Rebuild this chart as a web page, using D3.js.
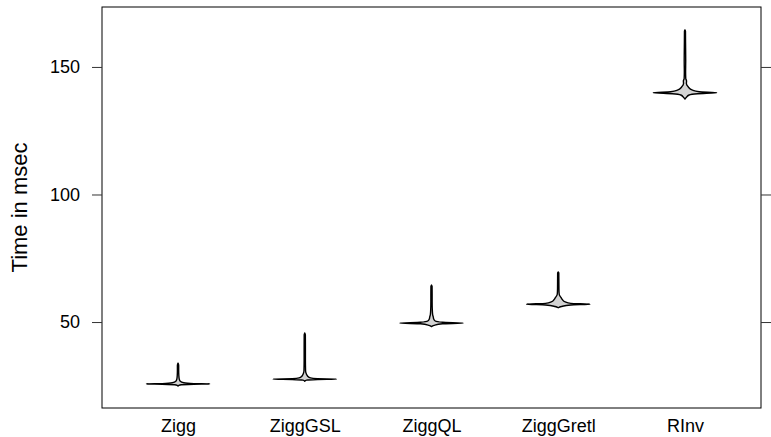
<!DOCTYPE html>
<html>
<head>
<meta charset="utf-8">
<script src="https://cdn.jsdelivr.net/npm/d3@7"></script>
<style>
  body { margin: 0; background: #fff; }
  text { font-family: "Liberation Sans", Arial, sans-serif; }
</style>
</head>
<body>
<div class="chart"></div>
<script>
// categories and tick labels
var categories = ["Zigg", "ZiggGSL", "ZiggQL", "ZiggGretl", "RInv"];
var yTicks = [50, 100, 150];

// density profiles: [time in msec, relative width]
var zigg = [[24.9, 0], [25.3, 0.06], [25.6, 0.5], [25.7, 1], [25.85, 0.5], [26.2, 0.18],
  [26.8, 0.07], [27.5, 0.04], [29, 0.025], [31, 0.02], [33, 0.02], [33.9, 0]];
var ziggGSL = [[26.8, 0], [27.2, 0.06], [27.5, 0.4], [27.6, 1], [27.75, 0.4], [28.1, 0.18],
  [28.8, 0.09], [29.8, 0.045], [31, 0.025], [35, 0.02], [40, 0.02], [45, 0.018], [45.7, 0]];
var ziggQL = [[48.2, 0], [48.7, 0.08], [49.3, 0.35], [49.6, 1], [49.9, 0.35], [50.4, 0.12],
  [51.2, 0.07], [52, 0.055], [53, 0.035], [55, 0.025], [58, 0.02], [61, 0.02], [64, 0.018], [64.5, 0]];
var ziggGretl = [[55.6, 0], [56.1, 0.1], [56.7, 0.4], [57, 1], [57.3, 0.4], [57.9, 0.22],
  [58.8, 0.13], [59.6, 0.09], [60.3, 0.05], [61, 0.03], [63, 0.022], [66, 0.02], [69.2, 0.018], [69.6, 0]];
var rInv = [[137.4, 0], [138, 0.04], [139, 0.13], [139.5, 0.4], [139.9, 1], [140.3, 0.45],
  [140.9, 0.24], [142.2, 0.1], [143.5, 0.045], [144.5, 0.05], [145.5, 0.025], [148, 0.02],
  [152.5, 0.024], [155.5, 0.022], [160, 0.018], [164, 0.016], [164.5, 0]];

var profiles = [zigg, ziggGSL, ziggQL, ziggGretl, rInv];

var width = 771, height = 437;
var margin = { top: 7, right: 10, bottom: 29, left: 102 };

var svg = d3.select(".chart").append("svg")
  .attr("width", width)
  .attr("height", height);

var x = d3.scaleLinear()
  .domain([0.4, categories.length + 0.6])
  .range([margin.left, width - margin.right]);

var y = d3.scaleLinear()
  .domain([16.3, 173.5])
  .range([height - margin.bottom, margin.top]);

// half of the box width (box.ratio 1 -> half a unit)
var half = (x(1.5) - x(1)) / 2;

var violin = d3.area()
  .curve(d3.curveMonotoneY)
  .y(function(d) { return y(d[0]); });

profiles.forEach(function(p, i) {
  var cx = x(i + 1);
  violin
    .x0(function(d) { return cx - d[1] * half; })
    .x1(function(d) { return cx + d[1] * half; });
  svg.append("path")
    .datum(p)
    .attr("d", violin)
    .attr("fill", "#d3d3d3")
    .attr("stroke", "#000")
    .attr("stroke-width", 1.4)
    .attr("stroke-linejoin", "round");
});

// panel border
svg.append("rect")
  .attr("x", x.range()[0])
  .attr("y", y.range()[1])
  .attr("width", x.range()[1] - x.range()[0])
  .attr("height", y.range()[0] - y.range()[1])
  .attr("fill", "none")
  .attr("stroke", "#000")
  .attr("stroke-width", 1);

// left axis with labels, right axis ticks only
svg.append("g")
  .attr("transform", "translate(" + x.range()[0] + ",0)")
  .call(d3.axisLeft(y).tickValues(yTicks).tickSize(10).tickPadding(12))
  .call(function(g) { g.select(".domain").remove(); })
  .call(function(g) {
    g.selectAll("line").attr("stroke", "#333");
    g.selectAll("text").attr("font-size", 18).attr("fill", "#000");
  });

svg.append("g")
  .attr("transform", "translate(" + x.range()[1] + ",0)")
  .call(d3.axisRight(y).tickValues(yTicks).tickSize(10).tickFormat(""))
  .call(function(g) { g.select(".domain").remove(); })
  .call(function(g) { g.selectAll("line").attr("stroke", "#333"); });

// category labels
svg.append("g")
  .attr("transform", "translate(0," + y.range()[0] + ")")
  .call(d3.axisBottom(x).tickValues(d3.range(1, categories.length + 1))
    .tickSize(0).tickPadding(11)
    .tickFormat(function(d) { return categories[d - 1]; }))
  .call(function(g) { g.select(".domain").remove(); })
  .call(function(g) {
    g.selectAll("text").attr("font-size", 18).attr("fill", "#000");
  });

// y label
svg.append("text")
  .attr("transform", "translate(19," + (margin.top + (y.range()[0] - margin.top) / 2) + ") rotate(-90)")
  .attr("text-anchor", "middle")
  .attr("dy", "0.35em")
  .attr("font-size", 22)
  .text("Time in msec");
</script>
</body>
</html>
